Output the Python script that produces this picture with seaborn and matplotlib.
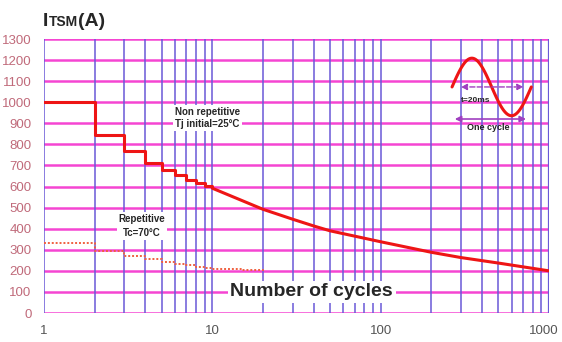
import numpy as np
import pandas as pd
import matplotlib.pyplot as plt
import matplotlib.transforms as mtransforms
import seaborn as sns

# non repetitive surge (Tj initial = 25C): staircase for 1..10 cycles, then smooth curve
step_cycles = [1, 2, 3, 4, 5, 6, 7, 8, 9, 10]
step_itsm = [1000, 845, 770, 713, 680, 655, 631, 615, 602, 602]
curve_cycles = [10, 20, 30, 40, 50, 100, 200, 300, 500, 1000]
curve_itsm = [592, 492, 445, 413, 390, 338, 288, 263, 237, 200]

# repetitive surge (Tc = 70C)
rep_cycles = [1, 2, 3, 4, 5, 6, 7, 8, 9, 10, 12, 15, 20]
rep_itsm = [331, 294, 270, 255, 240, 232, 226, 220, 212, 210, 207, 204, 201]

y_ticks = list(range(0, 1400, 100))
x_ticks = [1, 10, 100, 1000]
x_tick_labels = ["1", "10", "100", "1000"]

sns.set_style("white")
plt.rcParams['font.family'] = ['Liberation Sans', 'DejaVu Sans']

W, H = 562, 342
fig = plt.figure(figsize=(W / 100, H / 100), dpi=100)
ax = fig.add_axes([44 / W, (H - 313) / H, 505 / W, 274 / H])
ax.set_xscale("log")
ax.set_xlim(1, 1000)
ax.set_ylim(0, 1300)

# grid: pink horizontals, blue-violet verticals
for v in y_ticks:
    ax.axhline(v, color="#f545d2", lw=1.8, zorder=1)
for dec in [1, 10, 100]:
    for m in range(1, 10):
        ax.axvline(dec * m, color="#6a5ad8", lw=1.3, alpha=0.85, zorder=1)
ax.axvline(1000, color="#6a5ad8", lw=1.6, zorder=1)
for s in ax.spines.values():
    s.set_visible(False)

step_df = pd.DataFrame({"cycles": step_cycles, "itsm": step_itsm})
curve_df = pd.DataFrame({"cycles": curve_cycles, "itsm": curve_itsm})
rep_df = pd.DataFrame({"cycles": rep_cycles, "itsm": rep_itsm})

sns.lineplot(data=step_df, x="cycles", y="itsm", ax=ax, color="#ee1515", lw=2.2,
             drawstyle="steps-post", zorder=4)
sns.lineplot(data=curve_df, x="cycles", y="itsm", ax=ax, color="#ee1515", lw=2.2, zorder=4)
sns.lineplot(data=rep_df, x="cycles", y="itsm", ax=ax, color="#f06040", lw=1.4,
             ls=(0, (1, 1)), drawstyle="steps-post", zorder=4)

ax.set_yticks(y_ticks)
ax.set_yticklabels([str(v) for v in y_ticks], color="#c06a7a", fontsize=9.5)
ax.set_xticks(x_ticks)
ax.set_xticklabels(x_tick_labels, color="#555555", fontsize=9.5)
ax.minorticks_off()
ax.tick_params(length=0, pad=9)
ax.set_xlabel("")
ax.set_ylabel("")
# keep "1000" inside the canvas
last = ax.get_xticklabels()[-1]
last.set_transform(last.get_transform() + mtransforms.ScaledTranslation(-5 / 100, 0, fig.dpi_scale_trans))

box = dict(facecolor="white", edgecolor="none", pad=1.5)
ax.text(0.259, 0.712, "Non repetitive\nTj initial=25°C", transform=ax.transAxes,
        fontsize=7, fontweight="bold", ha="left", va="center", linespacing=1.25,
        bbox=box, zorder=5)
ax.text(0.194, 0.318, "Repetitive\nTc=70°C", transform=ax.transAxes,
        fontsize=7, fontweight="bold", ha="center", va="center", linespacing=1.5,
        bbox=box, zorder=5)
ax.text(0.53, 0.077, "Number of cycles", transform=ax.transAxes, fontsize=14,
        fontweight="bold", ha="center", va="center",
        bbox=dict(facecolor="white", edgecolor="none", pad=2), zorder=5)

# one-cycle sine sketch
t = np.linspace(0, 2 * np.pi, 100)
ax.plot(0.808 + 0.157 * t / (2 * np.pi), 0.825 + 0.105 * np.sin(t),
        transform=ax.transAxes, color="#ee1515", lw=2.2, zorder=5)
ax.annotate("", xy=(0.955, 0.825), xytext=(0.82, 0.825), xycoords="axes fraction",
            arrowprops=dict(arrowstyle="<|-|>", color="#a040c0", lw=1, ls="--",
                            mutation_scale=9), zorder=6)
ax.annotate("", xy=(0.96, 0.708), xytext=(0.808, 0.708), xycoords="axes fraction",
            arrowprops=dict(arrowstyle="<|-|>", color="#a040c0", lw=1.2,
                            mutation_scale=9), zorder=6)
ax.text(0.825, 0.775, "t=20ms", transform=ax.transAxes, fontsize=6,
        fontweight="bold", ha="left", va="center", zorder=6)
ax.text(0.837, 0.678, "One cycle", transform=ax.transAxes, fontsize=6.5,
        fontweight="bold", ha="left", va="center", zorder=6)

# title  I_TSM(A)
fig.text(43 / W, 1 - 26 / H, "I", fontsize=14, fontweight="bold", va="baseline")
fig.text(49 / W, 1 - 26 / H, "TSM", fontsize=10, fontweight="bold", va="baseline")
fig.text(78 / W, 1 - 26 / H, "(A)", fontsize=14, fontweight="bold", va="baseline")

fig.savefig("out.png", dpi=100)
